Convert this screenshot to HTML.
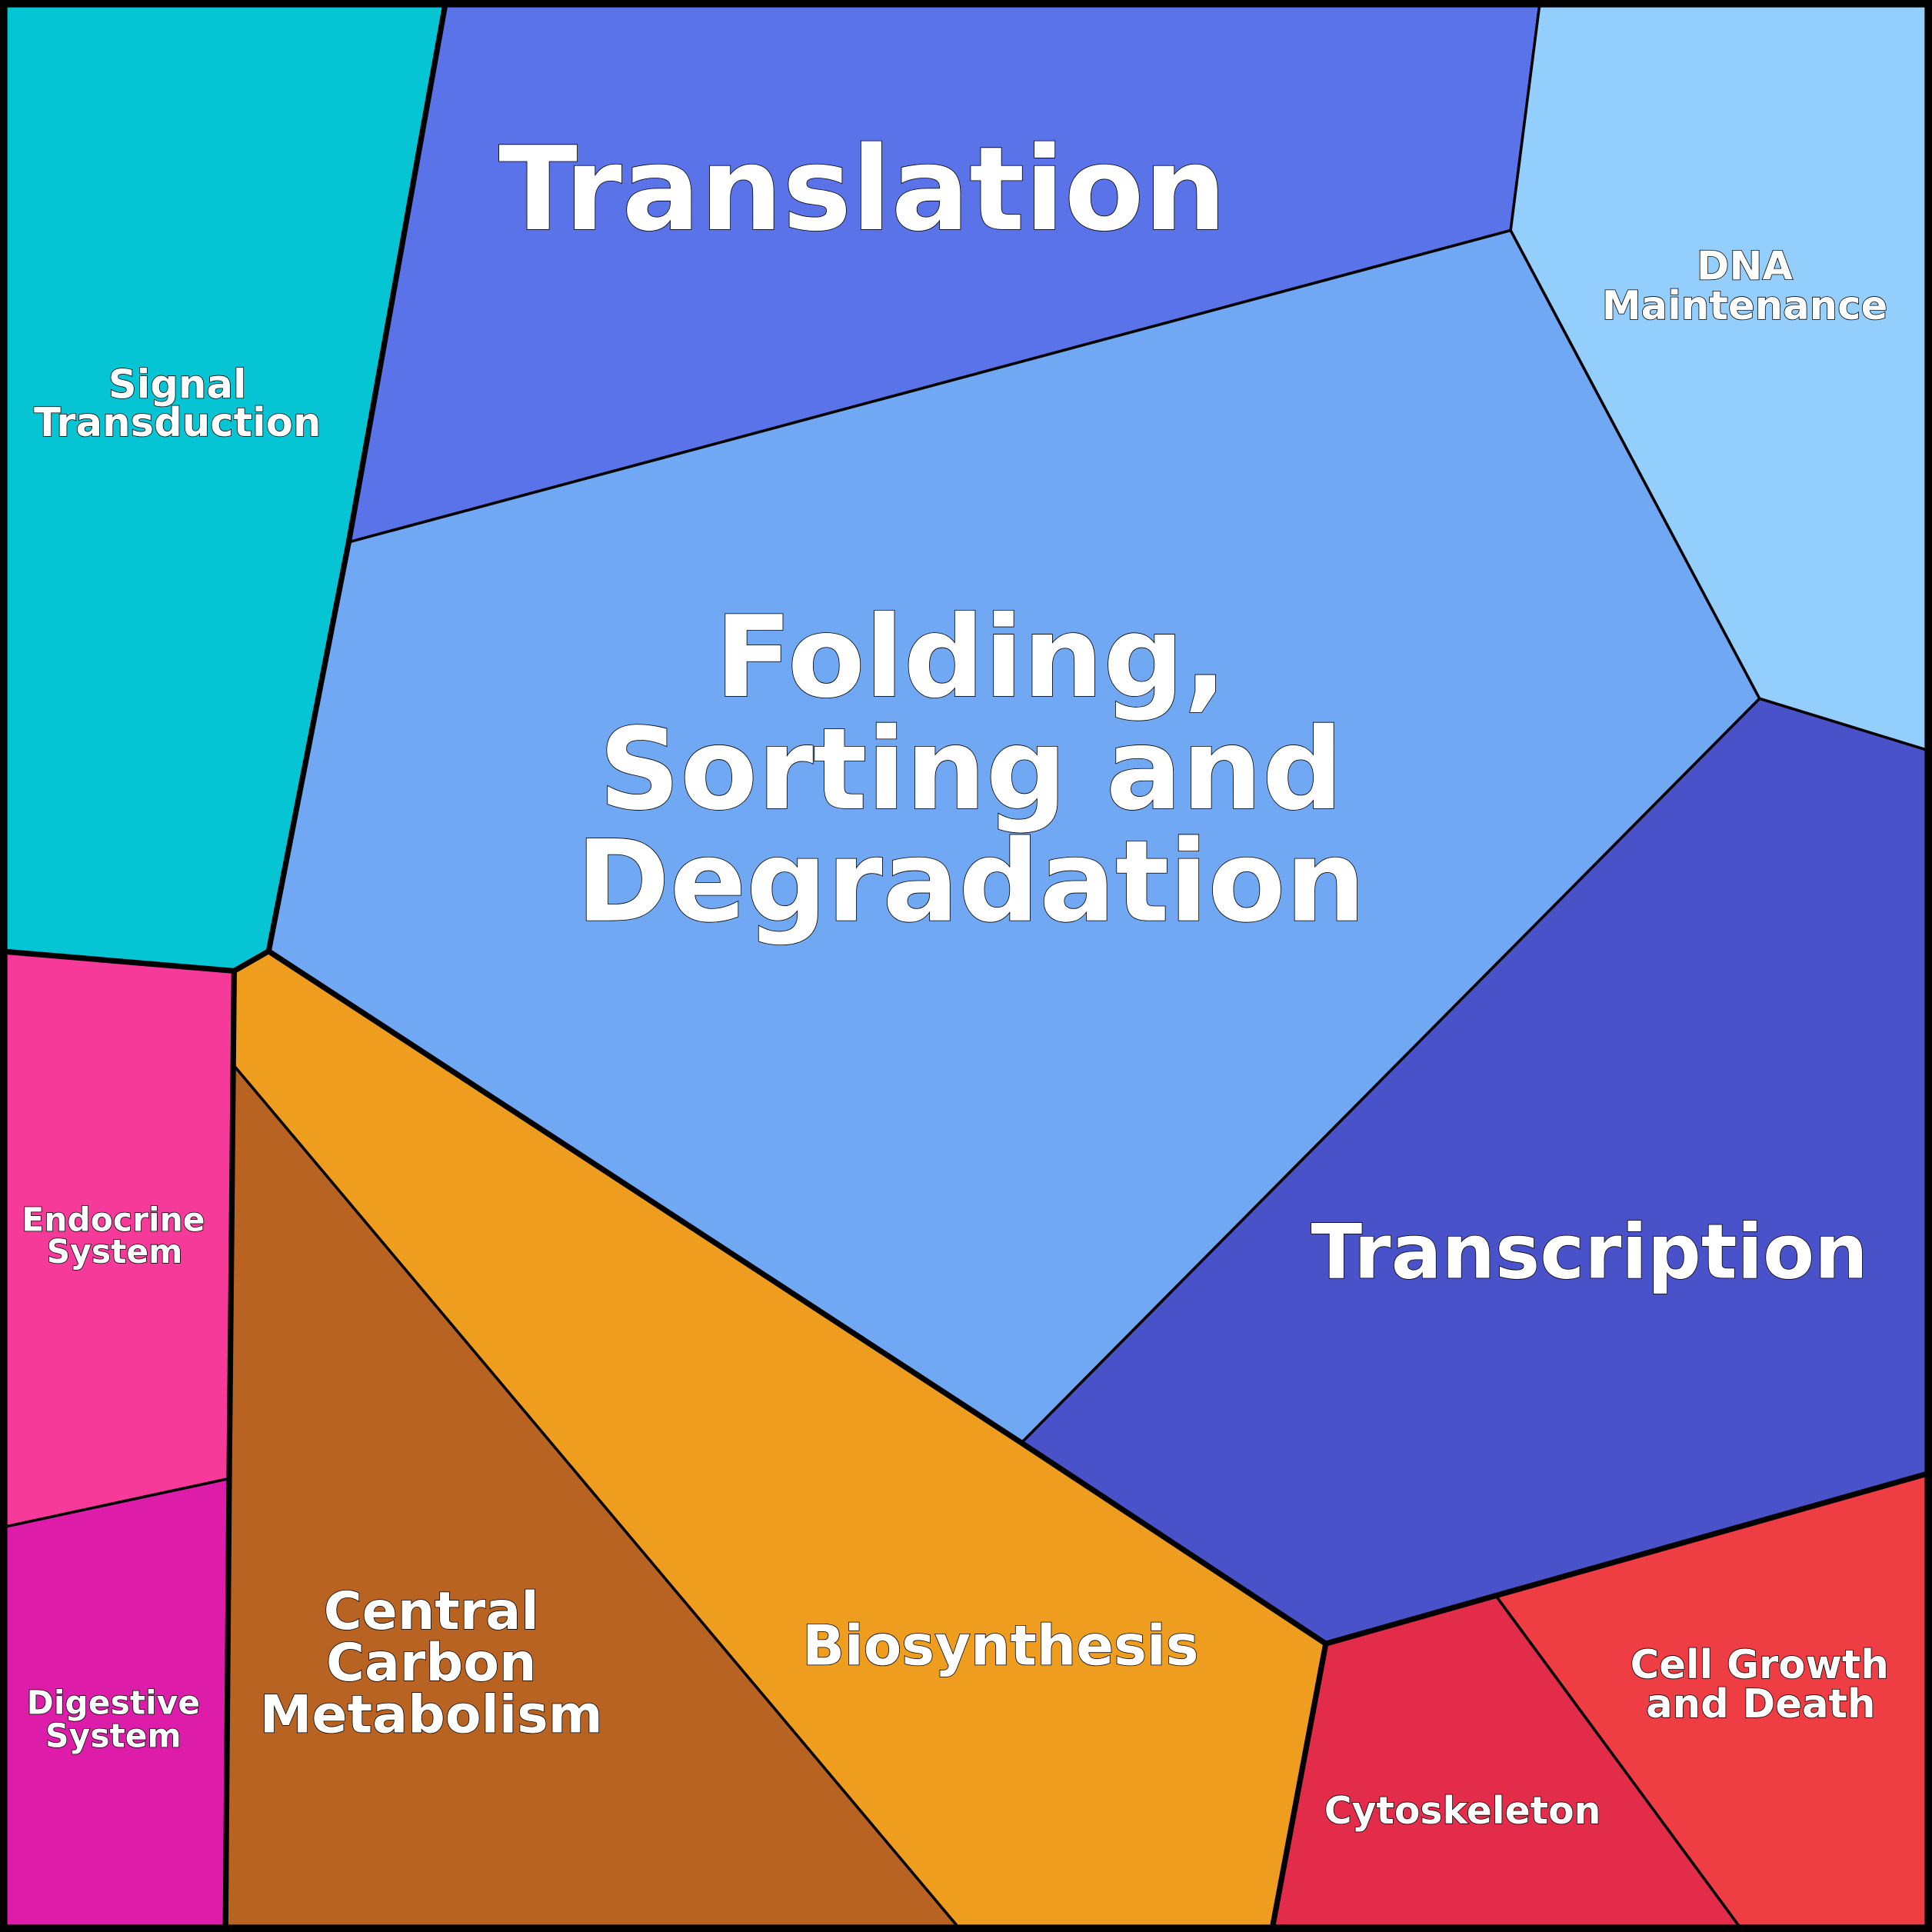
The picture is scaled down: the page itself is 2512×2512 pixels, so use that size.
<!DOCTYPE html>
<html><head><meta charset="utf-8"><style>
html,body{margin:0;padding:0;background:#000}
svg{display:block}
text{font-family:"DejaVu Sans","Liberation Sans",sans-serif;font-weight:bold;fill:#fff;stroke:#000;stroke-width:1;paint-order:stroke;text-anchor:middle}
</style></head><body>
<svg width="2512" height="2512" viewBox="0 0 1568 1568" xmlns="http://www.w3.org/2000/svg">
<g stroke="#000" stroke-width="2.2" stroke-linejoin="round">
<polygon fill="#05C5D5" points="0,0 362,0 283,440 218,772 190,788 0,772"/>
<polygon fill="#5A73E8" points="362,0 1250,0 1226,187 283,440"/>
<polygon fill="#93CEFC" points="1250,0 1568,0 1568,610 1428,567 1226,187"/>
<polygon fill="#71A8F3" points="283,440 1226,187 1428,567 829,1171 218,772"/>
<polygon fill="#4A52C9" points="1428,567 1568,610 1568,1195 1076,1334 829,1171"/>
<polygon fill="#EE9D1F" points="218,772 829,1171 1076,1334 1032,1568 781,1568 190,865 190,788"/>
<polygon fill="#B96322" points="190,865 781,1568 183,1568 186,1200"/>
<polygon fill="#F63A9A" points="0,772 190,788 186,1200 0,1240"/>
<polygon fill="#DD1CA9" points="0,1240 186,1200 183,1568 0,1568"/>
<polygon fill="#E32B4A" points="1076,1334 1214,1295 1415,1568 1032,1568"/>
<polygon fill="#EE3D43" points="1214,1295 1568,1195 1568,1568 1415,1568"/>
</g>
<g fill="none" stroke="#000" stroke-width="4.5" stroke-linejoin="round">
<polyline points="362,0 283,440 218,772 190,788 0,772"/>
<polyline points="218,772 829,1171 1076,1334 1568,1195"/>
<polyline points="190,788 186,1200 183,1568"/>
<polyline points="1076,1334 1032,1568"/>
<rect x="3" y="3" width="1562" height="1562" stroke-width="6"/>
</g>
<text x="700" y="186" font-size="94">Translation</text>
<text x="788" y="565" font-size="91.5">Folding,</text>
<text x="788" y="656" font-size="91.5">Sorting and</text>
<text x="788" y="747" font-size="91.5">Degradation</text>
<text x="1290" y="1037" font-size="61">Transcription</text>
<text x="144" y="323" font-size="32">Signal</text>
<text x="144" y="354" font-size="32">Transduction</text>
<text x="1416" y="227" font-size="32">DNA</text>
<text x="1416" y="259" font-size="32">Maintenance</text>
<text x="92" y="999" font-size="26.5">Endocrine</text>
<text x="93" y="1025" font-size="26.5">System</text>
<text x="92" y="1391" font-size="26.5">Digestive</text>
<text x="92" y="1418" font-size="26.5">System</text>
<text x="350" y="1322" font-size="42.5">Central</text>
<text x="350" y="1364" font-size="42.5">Carbon</text>
<text x="350" y="1406" font-size="42.5">Metabolism</text>
<text x="812" y="1351" font-size="45">Biosynthesis</text>
<text x="1428" y="1362" font-size="32">Cell Growth</text>
<text x="1429" y="1394" font-size="32">and Death</text>
<text x="1187" y="1480" font-size="30.5">Cytoskeleton</text>
</svg>
</body></html>
